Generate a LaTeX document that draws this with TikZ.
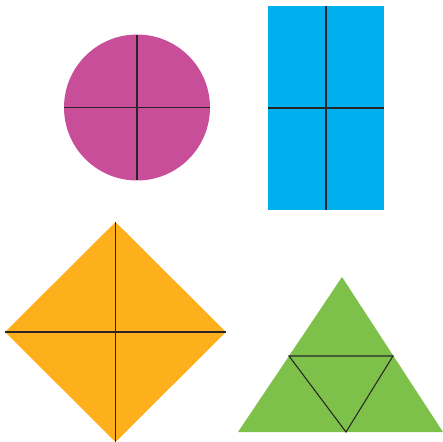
\documentclass[tikz,border=0pt]{standalone}
\usepackage{xcolor}
\usepackage{tikz}
\usetikzlibrary{shapes.geometric,calc}

\definecolor{discpink}{HTML}{C84E9A}
\definecolor{barblue}{HTML}{00B0EE}
\definecolor{kiteorange}{HTML}{FDB01B}
\definecolor{trigreen}{HTML}{7DC14A}

\begin{document}
\begin{tikzpicture}[x=0.02cm, y=-0.02cm,
piece/.style={inner sep=0pt, outer sep=0pt, draw=none},
cut/.style={line width=0.6pt, draw=black!85}
]
\useasboundingbox (0,0) rectangle (443,441);
% circle in quarters
\node[piece, circle, fill=discpink, minimum size=2.92cm] (disc) at (137,107.5) {};
\draw[cut] (disc.north) -- (disc.south);
\draw[cut] (disc.west) -- (disc.east);
% rectangle in quarters
\node[piece, rectangle, fill=barblue, minimum width=2.32cm, minimum height=4.08cm] (bar) at (326,108) {};
\draw[cut] (bar.north) -- (bar.south);
\draw[cut] (bar.west) -- (bar.east);
% square on its corner
\node[piece, diamond, fill=kiteorange, minimum width=4.42cm, minimum height=4.4cm] (kite) at (115.5,332) {};
\draw[cut] (kite.north) -- (kite.south);
\draw[cut] (kite.west) -- (kite.east);
% triangle in four
\coordinate (apex) at (342,277);
\coordinate (baseL) at (238,432);
\coordinate (baseR) at (443,432);
\coordinate (midL) at (289,356);
\coordinate (midR) at (393,356);
\coordinate (midB) at (346,432);
\fill[trigreen] (apex) -- (baseL) -- (baseR) -- cycle;
\draw[cut] (midL) -- (midR) -- (midB) -- cycle;
\end{tikzpicture}
\end{document}
